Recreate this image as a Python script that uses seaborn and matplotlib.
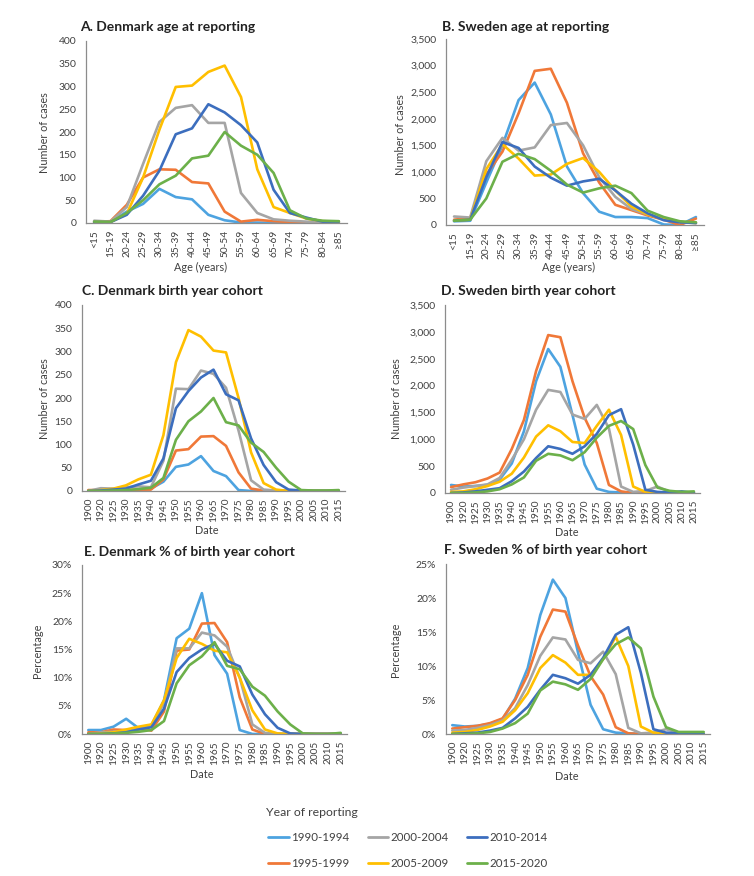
import numpy as np
import pandas as pd
import matplotlib
matplotlib.use("Agg")
import matplotlib.pyplot as plt
import seaborn as sns
from matplotlib.ticker import FuncFormatter, FixedLocator
from matplotlib.lines import Line2D

# ---------------- data ----------------
periods = ["1990-1994", "1995-1999", "2000-2004", "2005-2009", "2010-2014", "2015-2020"]
colors = ["#4DA3E0", "#F07838", "#A5A5A5", "#FFBF00", "#3C6EBE", "#6CB04A"]

age_groups = ["<15", "15-19", "20-24", "25-29", "30-34", "35-39", "40-44", "45-49",
              "50-54", "55-59", "60-64", "65-69", "70-74", "75-79", "80-84", "≥85"]
birth_years = ["1900", "1920", "1925", "1930", "1935", "1940", "1945", "1950", "1955",
               "1960", "1965", "1970", "1975", "1980", "1985", "1990", "1995", "2000",
               "2005", "2010", "2015"]

# A. Denmark age at reporting
dk_age_1990 = [3, 2, 25, 42, 75, 57, 52, 18, 6, 1, 1, 0, 0, 0, 0, 0]
dk_age_1995 = [2, 4, 40, 100, 118, 117, 90, 87, 25, 3, 7, 4, 2, 1, 0, 0]
dk_age_2000 = [5, 3, 35, 130, 222, 253, 259, 220, 220, 66, 22, 8, 5, 3, 2, 2]
dk_age_2005 = [2, 2, 20, 100, 205, 299, 302, 332, 346, 277, 118, 35, 22, 10, 4, 3]
dk_age_2010 = [2, 2, 18, 60, 115, 195, 208, 261, 243, 215, 177, 73, 22, 12, 3, 3]
dk_age_2015 = [3, 2, 22, 50, 85, 104, 142, 148, 200, 170, 150, 110, 28, 10, 5, 4]

# B. Sweden age at reporting
se_age_1990 = [70, 80, 800, 1500, 2350, 2680, 2080, 1100, 600, 250, 150, 150, 130, 10, 0, 150]
se_age_1995 = [100, 130, 950, 1380, 2100, 2900, 2940, 2300, 1350, 800, 380, 280, 180, 100, 0, 120]
se_age_2000 = [160, 140, 1200, 1640, 1400, 1460, 1880, 1920, 1500, 900, 530, 300, 200, 120, 60, 30]
se_age_2005 = [80, 100, 1050, 1520, 1250, 930, 950, 1150, 1260, 1000, 650, 350, 200, 110, 60, 40]
se_age_2010 = [80, 100, 900, 1560, 1450, 1100, 890, 740, 820, 870, 650, 400, 220, 90, 50, 40]
se_age_2015 = [80, 100, 500, 1190, 1340, 1240, 1020, 760, 610, 690, 740, 600, 270, 150, 70, 50]

# C. Denmark birth year cohort
dk_coh_1990 = [0, 0, 0, 0, 2, 5, 20, 52, 57, 75, 43, 32, 2, 0, 0, 0, 0, 0, 0, 0, 0]
dk_coh_1995 = [2, 2, 2, 2, 3, 3, 25, 87, 90, 117, 118, 97, 40, 5, 1, 0, 0, 0, 0, 0, 0]
dk_coh_2000 = [0, 6, 5, 8, 10, 8, 65, 220, 219, 259, 252, 222, 130, 23, 3, 1, 0, 0, 0, 0, 0]
dk_coh_2005 = [0, 2, 5, 12, 25, 35, 120, 277, 346, 332, 302, 298, 200, 83, 17, 3, 0, 0, 0, 0, 0]
dk_coh_2010 = [0, 1, 3, 5, 14, 22, 70, 178, 215, 244, 261, 208, 195, 113, 56, 19, 3, 1, 0, 0, 0]
dk_coh_2015 = [0, 0, 1, 2, 4, 7, 28, 110, 150, 171, 200, 148, 141, 104, 84, 50, 20, 2, 1, 1, 2]

# D. Sweden birth year cohort
se_coh_1990 = [150, 120, 130, 150, 250, 550, 1150, 2080, 2680, 2350, 1450, 530, 80, 20, 10, 0, 0, 0, 0, 0, 0]
se_coh_1995 = [110, 160, 200, 270, 380, 820, 1360, 2270, 2940, 2900, 2080, 1400, 930, 150, 30, 0, 0, 0, 0, 0, 0]
se_coh_2000 = [60, 100, 130, 160, 280, 620, 1000, 1550, 1920, 1880, 1460, 1380, 1640, 1200, 120, 20, 40, 120, 20, 0, 0]
se_coh_2005 = [20, 30, 70, 130, 210, 360, 660, 1050, 1260, 1150, 950, 930, 1250, 1550, 1080, 120, 20, 0, 0, 0, 0]
se_coh_2010 = [0, 10, 30, 60, 90, 220, 400, 650, 870, 820, 730, 870, 1100, 1450, 1560, 900, 60, 20, 10, 30, 0]
se_coh_2015 = [0, 0, 10, 30, 70, 160, 290, 600, 730, 700, 610, 760, 1030, 1250, 1340, 1190, 520, 100, 40, 20, 30]

# E. Denmark % of birth year cohort
dk_pct_1990 = [0.7, 0.7, 1.3, 2.7, 1.0, 1.5, 6.0, 17.0, 18.7, 25.0, 14.0, 10.7, 0.7, 0, 0, 0, 0, 0, 0, 0, 0]
dk_pct_1995 = [0.3, 0.3, 0.8, 0.7, 1.0, 0.6, 4.0, 14.8, 15.0, 19.6, 19.7, 16.3, 6.5, 0.8, 0, 0, 0, 0, 0, 0, 0]
dk_pct_2000 = [0, 0.3, 0.4, 0.5, 0.8, 1.5, 5.5, 15.2, 15.2, 18.0, 17.5, 15.5, 10.0, 1.7, 0.2, 0, 0, 0, 0, 0, 0]
dk_pct_2005 = [0, 0.1, 0.3, 0.8, 1.3, 1.7, 6.0, 13.5, 16.9, 16.0, 14.8, 14.5, 10.0, 4.2, 0.8, 0.1, 0, 0, 0, 0, 0]
dk_pct_2010 = [0, 0, 0.1, 0.3, 0.8, 1.2, 4.5, 11.0, 13.5, 15.0, 16.0, 13.0, 12.0, 7.0, 3.5, 1.1, 0.1, 0, 0, 0, 0]
dk_pct_2015 = [0, 0, 0.1, 0.2, 0.4, 0.7, 2.3, 9.0, 12.2, 13.8, 16.3, 12.1, 11.5, 8.4, 6.8, 4.0, 1.7, 0.1, 0, 0, 0.2]

# F. Sweden % of birth year cohort
se_pct_1990 = [1.3, 1.1, 1.2, 1.5, 2.2, 5.2, 9.7, 17.5, 22.7, 20.0, 12.0, 4.3, 0.7, 0.2, 0.1, 0, 0, 0, 0, 0, 0]
se_pct_1995 = [0.8, 1.0, 1.2, 1.6, 2.3, 5.0, 8.7, 14.3, 18.3, 18.0, 13.0, 8.5, 5.8, 1.0, 0.1, 0, 0, 0, 0, 0, 0]
se_pct_2000 = [0.5, 0.6, 0.9, 1.3, 2.0, 3.8, 7.2, 11.5, 14.2, 13.9, 10.9, 10.4, 12.1, 8.8, 0.9, 0.1, 0.2, 0.7, 0.2, 0, 0]
se_pct_2005 = [0.2, 0.3, 0.6, 1.1, 1.8, 3.5, 6.0, 9.7, 11.6, 10.5, 8.7, 8.7, 11.0, 14.3, 10.0, 1.1, 0.2, 0, 0, 0, 0]
se_pct_2010 = [0, 0.1, 0.2, 0.5, 0.9, 2.3, 4.0, 6.5, 8.7, 8.2, 7.4, 8.7, 11.2, 14.6, 15.7, 9.0, 0.7, 0.2, 0.1, 0.2, 0]
se_pct_2015 = [0, 0, 0.1, 0.3, 0.8, 1.6, 3.0, 6.4, 7.7, 7.3, 6.5, 8.1, 11.0, 13.2, 14.2, 12.6, 5.5, 1.0, 0.3, 0.3, 0.3]

panels = [
    dict(title="A. Denmark age at reporting", cats=age_groups,
         series=[dk_age_1990, dk_age_1995, dk_age_2000, dk_age_2005, dk_age_2010, dk_age_2015],
         ymax=400, ystep=50, ylabel="Number of cases", xlabel="Age (years)", pct=False),
    dict(title="B. Sweden age at reporting", cats=age_groups,
         series=[se_age_1990, se_age_1995, se_age_2000, se_age_2005, se_age_2010, se_age_2015],
         ymax=3500, ystep=500, ylabel="Number of cases", xlabel="Age (years)", pct=False),
    dict(title="C. Denmark birth year cohort", cats=birth_years,
         series=[dk_coh_1990, dk_coh_1995, dk_coh_2000, dk_coh_2005, dk_coh_2010, dk_coh_2015],
         ymax=400, ystep=50, ylabel="Number of cases", xlabel="Date", pct=False),
    dict(title="D. Sweden birth year cohort", cats=birth_years,
         series=[se_coh_1990, se_coh_1995, se_coh_2000, se_coh_2005, se_coh_2010, se_coh_2015],
         ymax=3500, ystep=500, ylabel="Number of cases", xlabel="Date", pct=False),
    dict(title="E. Denmark % of birth year cohort", cats=birth_years,
         series=[dk_pct_1990, dk_pct_1995, dk_pct_2000, dk_pct_2005, dk_pct_2010, dk_pct_2015],
         ymax=30, ystep=5, ylabel="Percentage", xlabel="Date", pct=True),
    dict(title="F. Sweden % of birth year cohort", cats=birth_years,
         series=[se_pct_1990, se_pct_1995, se_pct_2000, se_pct_2005, se_pct_2010, se_pct_2015],
         ymax=25, ystep=5, ylabel="Percentage", xlabel="Date", pct=True),
]

# ---------------- layout (pixel boxes: left, top, right, bottom) ----------------
W, H = 754, 876
boxes = [(86, 41, 347, 223), (446, 39, 704, 225),
         (82, 305, 345, 491), (445, 305, 700, 493),
         (82, 565, 347, 734), (446, 564, 710, 734)]
title_pos = [(80, 27), (442, 27), (82, 291), (441, 291), (84, 552), (444, 550)]
ylabel_pos = [(44, 133), (400, 135), (44, 399), (397, 399), (37, 651), (395, 650)]
xlabel_pos = [(201, 267), (569, 267), (207, 531), (567, 533), (202, 775), (567, 776)]

sns.set_theme(style="white")
plt.rcParams["font.family"] = ["Lato", "DejaVu Sans"]

fig = plt.figure(figsize=(W / 100, H / 100), dpi=100)
axis_col = "#8C8C8C"
text_col = "#404040"

for p, box, tp, yp, xp in zip(panels, boxes, title_pos, ylabel_pos, xlabel_pos):
    l, t, r, b = box
    ax = fig.add_axes([l / W, 1 - b / H, (r - l) / W, (b - t) / H])
    n = len(p["cats"])
    rows = []
    for per, vals in zip(periods, p["series"]):
        for i, v in enumerate(vals):
            rows.append({"pos": i, "value": v, "period": per})
    df = pd.DataFrame(rows)
    sns.lineplot(data=df, x="pos", y="value", hue="period", hue_order=periods,
                 palette=colors, linewidth=1.9, ax=ax, legend=False, sort=False)
    ax.set_xlim(-0.5, n - 0.5)
    ax.set_ylim(0, p["ymax"])
    ax.set_yticks(np.arange(0, p["ymax"] + 1e-9, p["ystep"]))
    if p["pct"]:
        ax.yaxis.set_major_formatter(FuncFormatter(lambda v, _: f"{v:.0f}%"))
    else:
        ax.yaxis.set_major_formatter(FuncFormatter(lambda v, _: f"{v:,.0f}"))
    ax.set_xticks(np.arange(n))
    ax.set_xticklabels(p["cats"], rotation=90)
    ax.xaxis.set_minor_locator(FixedLocator(np.arange(-0.5, n, 1.0)))
    ax.tick_params(axis="x", which="major", length=0, labelsize=7.3, colors=text_col, pad=5)
    ax.tick_params(axis="x", which="minor", length=4, color=axis_col, width=0.8, direction="out")
    ax.tick_params(axis="y", which="major", length=4, color=axis_col, width=0.8,
                   labelsize=7.5, labelcolor=text_col, direction="out", pad=3)
    for s in ["top", "right"]:
        ax.spines[s].set_visible(False)
    for s in ["left", "bottom"]:
        ax.spines[s].set_color(axis_col)
        ax.spines[s].set_linewidth(0.9)
    ax.set_xlabel("")
    ax.set_ylabel("")
    ax.grid(False)
    fig.text(tp[0] / W, 1 - tp[1] / H, p["title"], fontsize=10, fontweight="bold",
             color="#222222", ha="left", va="center")
    fig.text(yp[0] / W, 1 - yp[1] / H, p["ylabel"], fontsize=7.8, color=text_col,
             rotation=90, ha="center", va="center")
    fig.text(xp[0] / W, 1 - xp[1] / H, p["xlabel"], fontsize=7.8, color=text_col,
             ha="center", va="center")

# legend (title drawn as separate text, entries below)
fig.text(266 / W, 1 - 812 / H, "Year of reporting", fontsize=8.8, color=text_col,
         ha="left", va="center")
handles = [Line2D([0], [0], color=c, lw=2) for c in colors]
leg = fig.legend(handles, periods, ncol=3,
                 loc="upper left", bbox_to_anchor=(258 / W, 1 - 822 / H),
                 frameon=False, fontsize=8.3,
                 handlelength=1.8, handletextpad=0.15, columnspacing=1.6,
                 labelspacing=1.3)
for txt in leg.get_texts():
    txt.set_color(text_col)

fig.savefig("out.png", dpi=100)
